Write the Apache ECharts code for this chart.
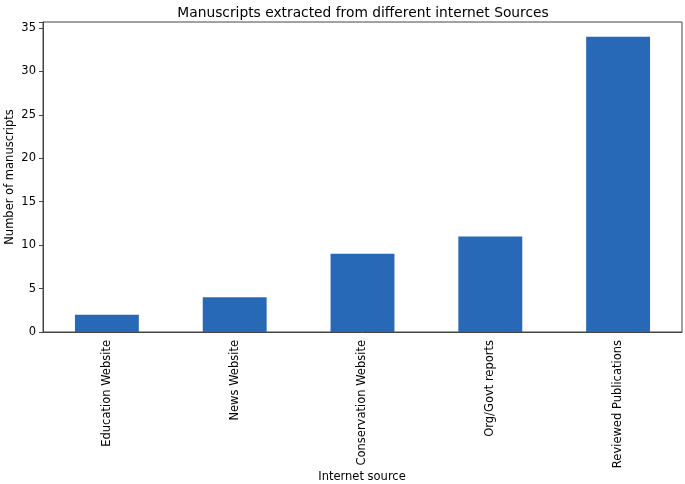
<!DOCTYPE html>
<html><head><meta charset="utf-8">
<script src="https://cdn.jsdelivr.net/npm/echarts@6/dist/echarts.min.js"></script>
<style>html,body{margin:0;padding:0;background:#fff}#c{width:685px;height:484px}</style>
</head><body><div id="c"></div>
<script>
const categories = ["Education Website", "News Website", "Conservation Website", "Org/Govt reports", "Reviewed Publications"];
const values = [2, 4, 9, 11, 34];
const yTicks = [0, 5, 10, 15, 20, 25, 30, 35];
const xName = 'Internet source';
const yName = 'Number of manuscripts';

const font = "DejaVu Sans";
const chart = echarts.init(document.getElementById('c'), null, {renderer: 'canvas'});
chart.setOption({
  animation: false,
  backgroundColor: '#fff',
  title: {
    text: 'Manuscripts extracted from different internet Sources',
    left: 358, top: 1, textAlign: 'center',
    textStyle: {fontFamily: font, fontSize: 13.8, fontWeight: 'normal', color: '#000'}
  },
  grid: {left: 43, right: 3, top: 22, bottom: 152, outerBoundsMode: 'none', containLabel: false,
    show: true, borderColor: '#444', borderWidth: 1, backgroundColor: 'transparent'},
  graphic: [
    {type: 'text', x: 362, y: 477, style: {text: xName, fontFamily: font, fontSize: 11.5, fill: '#000', align: 'center', verticalAlign: 'middle'}},
    {type: 'text', x: 10, y: 177, rotation: Math.PI / 2, style: {text: yName, fontFamily: font, fontSize: 11.5, fill: '#000', align: 'center', verticalAlign: 'middle'}}
  ],
  xAxis: {
    type: 'category', data: categories,
    axisLine: {lineStyle: {color: '#444'}},
    axisTick: {alignWithLabel: true, length: 4, lineStyle: {color: '#444'}},
    axisLabel: {rotate: 90, fontFamily: font, fontSize: 11.5, color: '#000', margin: 8, interval: 0}
  },
  yAxis: {
    type: 'value', min: 0, max: 35.7, interval: 5,
    axisLine: {show: true, lineStyle: {color: '#444'}},
    axisTick: {show: true, length: 4, lineStyle: {color: '#444'}},
    splitLine: {show: false},
    axisLabel: {fontFamily: font, fontSize: 11.5, color: '#000', margin: 7,
      formatter: v => yTicks.includes(v) ? String(v) : ''}
  },
  series: [{
    type: 'bar', data: values, barWidth: '50%',
    itemStyle: {color: '#2769b7'}
  }]
});
</script></body></html>
